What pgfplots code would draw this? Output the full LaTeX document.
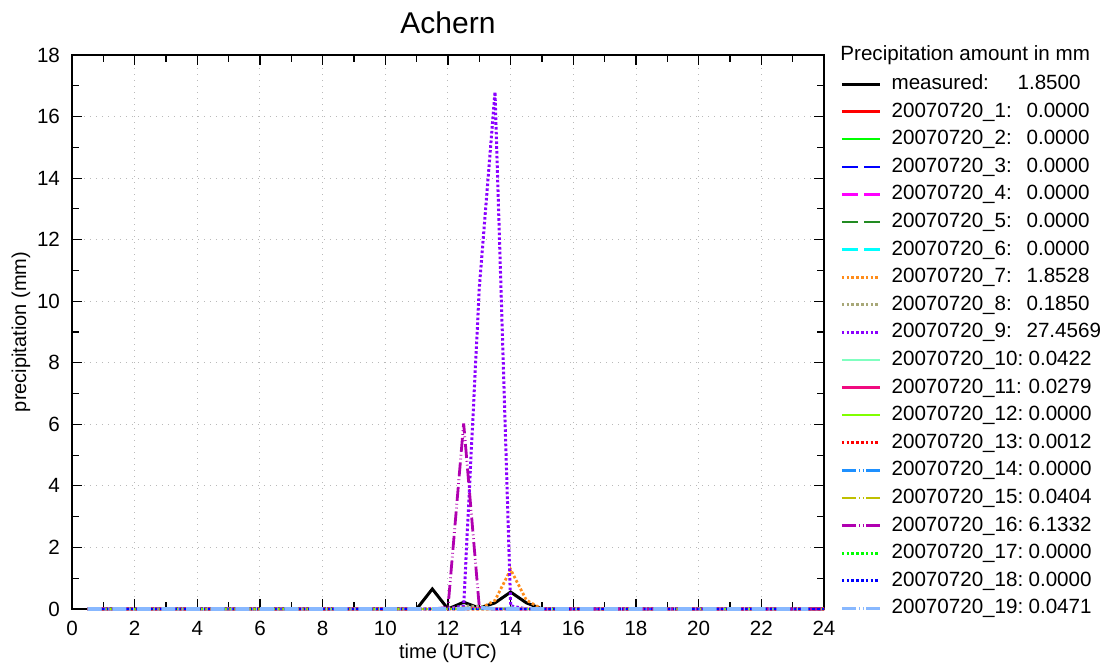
\documentclass[border=0pt]{standalone}
\usepackage{fontspec}
\setmainfont{Liberation Sans}
\usepackage{pgfplots}
\pgfplotsset{compat=1.18}
\definecolor{cA}{HTML}{FF0000}
\definecolor{cB}{HTML}{00FF00}
\definecolor{cC}{HTML}{0000FF}
\definecolor{cD}{HTML}{FF00FF}
\definecolor{cE}{HTML}{228B22}
\definecolor{cF}{HTML}{00FFFF}
\definecolor{cG}{HTML}{FF8C1A}
\definecolor{cH}{HTML}{A8A878}
\definecolor{cI}{HTML}{8A00FF}
\definecolor{cJ}{HTML}{80FFC0}
\definecolor{cK}{HTML}{F00A80}
\definecolor{cL}{HTML}{80FF00}
\definecolor{cM}{HTML}{FF0000}
\definecolor{cN}{HTML}{1E90FF}
\definecolor{cO}{HTML}{BFBF00}
\definecolor{cP}{HTML}{B000B0}
\definecolor{cQ}{HTML}{00FF00}
\definecolor{cR}{HTML}{0000FF}
\definecolor{cS}{HTML}{88B8FF}
\tikzset{
  dsh/.style={dash pattern=on 8pt off 3.3pt},
  dtt/.style={dash pattern=on 1.3pt off 1.1pt},
  dd/.style={dash pattern=on 7pt off 1.5pt on 0.4pt off 1.5pt on 0.4pt off 1.5pt},
}
\begin{document}
\begin{tikzpicture}
\useasboundingbox (-36pt,-27.5pt) rectangle (514pt,304.5pt);
\begin{axis}[
  scale only axis, width=376pt, height=277pt,
  xmin=0, xmax=24, ymin=0, ymax=18,
  xtick={0,2,...,24}, ytick={0,2,...,18},
  minor x tick num=1, minor y tick num=1,
  tick align=inside, major tick length=5pt, minor tick length=3.3pt,
  every tick/.style={black, line width=0.6pt},
  axis line style={black, line width=0.8pt},
  grid=major,
  major grid style={gray!55, line width=0.5pt, dash pattern=on 0.5pt off 2.5pt},
  /pgf/number format/assume math mode=true,
  tick label style={font=\fontsize{10.3}{12}\selectfont},
  yticklabel style={xshift=-2.5pt},
  xticklabel style={yshift=-2.5pt},
  xlabel={time (UTC)}, ylabel={precipitation (mm)},
  label style={font=\fontsize{10}{12}\selectfont},
  xlabel style={at={(axis description cs:0.5,-0.08)}, anchor=center},
  ylabel style={at={(axis description cs:-0.0678,0.5)}, anchor=center},
  title={Achern},
  title style={at={(axis description cs:0.5,1.037)}, anchor=center, font=\fontsize{15}{18}\selectfont},
  clip=false,
  legend style={at={(axis description cs:1.0213,0.9648)}, anchor=north west,
    draw=none, fill=none, inner sep=0pt, outer sep=0pt, row sep=4.3pt, column sep=5pt,
    font=\fontsize{10.3}{12}\selectfont,
    nodes={inner sep=0pt, text height=7.5pt, text depth=2pt}},
  legend cell align=left,
  legend image code/.code={\draw[#1] (0pt,0pt) -- (19pt,0pt);},
]
\addplot[black, line width=1.5pt] coordinates {(0.5,0) (11.0,0) (11.5,0.65) (12.0,0) (12.5,0.22) (13.0,0.03) (13.5,0.2) (14.0,0.55) (14.5,0.2) (15.0,0) (24,0)};
\addlegendentry{\makebox[63pt][l]{measured:}1.8500}
\addplot[cA, line width=1.2pt] coordinates {(0.5,0) (24,0)};
\addlegendentry{\makebox[67.5pt][l]{20070720\_1:}0.0000}
\addplot[cB, line width=1.2pt] coordinates {(0.5,0) (24,0)};
\addlegendentry{\makebox[67.5pt][l]{20070720\_2:}0.0000}
\addplot[cC, line width=1.2pt, dsh] coordinates {(0.5,0) (24,0)};
\addlegendentry{\makebox[67.5pt][l]{20070720\_3:}0.0000}
\addplot[cD, line width=1.2pt, dsh] coordinates {(0.5,0) (24,0)};
\addlegendentry{\makebox[67.5pt][l]{20070720\_4:}0.0000}
\addplot[cE, line width=1.2pt, dsh] coordinates {(0.5,0) (24,0)};
\addlegendentry{\makebox[67.5pt][l]{20070720\_5:}0.0000}
\addplot[cF, line width=1.2pt, dsh] coordinates {(0.5,0) (24,0)};
\addlegendentry{\makebox[67.5pt][l]{20070720\_6:}0.0000}
\addplot[cG, line width=1.4pt, dtt] coordinates {(0.5,0) (13.0,0) (13.5,0.28) (14.0,1.28) (14.5,0.29) (15.0,0) (24,0)};
\addlegendentry{\makebox[67.5pt][l]{20070720\_7:}1.8528}
\addplot[cH, line width=1.4pt, dtt] coordinates {(0.5,0) (12.0,0) (12.5,0.1) (13.0,0.085) (13.5,0) (24,0)};
\addlegendentry{\makebox[67.5pt][l]{20070720\_8:}0.1850}
\addplot[cI, line width=1.5pt, dtt] coordinates {(0.5,0) (12.0,0) (12.5,0.1) (13.0,10.45) (13.5,16.8) (14.0,0.1) (14.5,0) (24,0)};
\addlegendentry{\makebox[67.5pt][l]{20070720\_9:}27.4569}
\addplot[cJ, line width=1.2pt] coordinates {(0.5,0) (13.5,0) (14.0,0.0422) (14.5,0) (24,0)};
\addlegendentry{\makebox[68.5pt][l]{20070720\_10:}0.0422}
\addplot[cK, line width=1.2pt] coordinates {(0.5,0) (12.5,0) (13.0,0.0279) (13.5,0) (24,0)};
\addlegendentry{\makebox[68.5pt][l]{20070720\_11:}0.0279}
\addplot[cL, line width=1.2pt] coordinates {(0.5,0) (24,0)};
\addlegendentry{\makebox[68.5pt][l]{20070720\_12:}0.0000}
\addplot[cM, line width=1.4pt, dtt] coordinates {(0.5,0) (13.0,0) (13.5,0.0012) (14.0,0) (24,0)};
\addlegendentry{\makebox[68.5pt][l]{20070720\_13:}0.0012}
\addplot[cN, line width=1.2pt, dd] coordinates {(0.5,0) (24,0)};
\addlegendentry{\makebox[68.5pt][l]{20070720\_14:}0.0000}
\addplot[cO, line width=1.2pt, dd] coordinates {(0.5,0) (12.0,0) (12.5,0.0404) (13.0,0) (24,0)};
\addlegendentry{\makebox[68.5pt][l]{20070720\_15:}0.0404}
\addplot[cP, line width=1.4pt, dd] coordinates {(0.5,0) (11.5,0) (12.0,0.05) (12.5,6.03) (13.0,0.05) (13.5,0) (24,0)};
\addlegendentry{\makebox[68.5pt][l]{20070720\_16:}6.1332}
\addplot[cQ, line width=1.4pt, dtt] coordinates {(0.5,0) (24,0)};
\addlegendentry{\makebox[68.5pt][l]{20070720\_17:}0.0000}
\addplot[cR, line width=1.4pt, dtt] coordinates {(0.5,0) (24,0)};
\addlegendentry{\makebox[68.5pt][l]{20070720\_18:}0.0000}
\addplot[cS, line width=1.8pt, dd] coordinates {(0.5,0) (12.5,0) (13.0,0.0471) (13.5,0) (23.5,0)};
\addlegendentry{\makebox[68.5pt][l]{20070720\_19:}0.0471}
\node[anchor=west, inner sep=0pt, font=\fontsize{10.3}{12}\selectfont] at (rel axis cs:1.0213,1) {Precipitation amount in mm};
\end{axis}
\end{tikzpicture}
\end{document}
